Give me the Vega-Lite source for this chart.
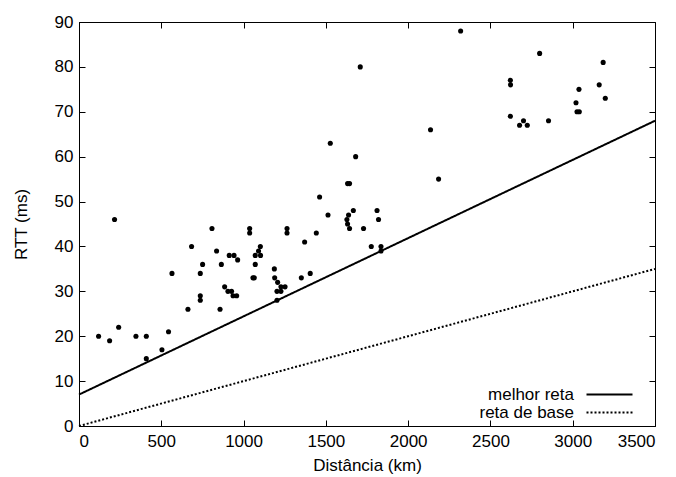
{
  "$schema": "https://vega.github.io/schema/vega-lite/v6.json",
  "width": 576,
  "height": 404,
  "autosize": {"type": "none"},
  "padding": {"left": 79, "top": 22, "right": 21, "bottom": 51},
  "background": "white",
  "config": {
    "font": "Liberation Sans",
    "view": {"stroke": "black", "strokeWidth": 1},
    "axis": {
      "grid": false,
      "domainColor": "black",
      "tickColor": "black",
      "labelColor": "black",
      "titleColor": "black",
      "labelFontSize": 17,
      "titleFontSize": 17,
      "titleFontWeight": "normal",
      "tickSize": -6,
      "format": "d"
    }
  },
  "datasets": {
    "lines": [
      {"serie": "melhor reta", "x": 0, "y": 7},
      {"serie": "melhor reta", "x": 3500, "y": 68},
      {"serie": "reta de base", "x": 0, "y": 0},
      {"serie": "reta de base", "x": 3500, "y": 35}
    ],
    "pts": [
      {"x": 216, "y": 46}, {"x": 119, "y": 20}, {"x": 186, "y": 19}, {"x": 241, "y": 22},
      {"x": 346, "y": 20}, {"x": 409, "y": 20}, {"x": 409, "y": 15}, {"x": 504, "y": 17},
      {"x": 544, "y": 21}, {"x": 565, "y": 34}, {"x": 662, "y": 26}, {"x": 684, "y": 40},
      {"x": 737, "y": 34}, {"x": 751, "y": 36}, {"x": 737, "y": 29}, {"x": 737, "y": 28},
      {"x": 808, "y": 44}, {"x": 836, "y": 39}, {"x": 857, "y": 26}, {"x": 865, "y": 36},
      {"x": 885, "y": 31}, {"x": 905, "y": 30}, {"x": 913, "y": 38}, {"x": 927, "y": 30},
      {"x": 942, "y": 38}, {"x": 936, "y": 29}, {"x": 958, "y": 29}, {"x": 964, "y": 37},
      {"x": 1037, "y": 44}, {"x": 1037, "y": 43}, {"x": 1057, "y": 33}, {"x": 1065, "y": 33},
      {"x": 1071, "y": 38}, {"x": 1091, "y": 39}, {"x": 1102, "y": 40}, {"x": 1103, "y": 38},
      {"x": 1071, "y": 36}, {"x": 1187, "y": 35}, {"x": 1189, "y": 33}, {"x": 1207, "y": 32},
      {"x": 1227, "y": 31}, {"x": 1203, "y": 30}, {"x": 1252, "y": 31}, {"x": 1227, "y": 30},
      {"x": 1203, "y": 28}, {"x": 1264, "y": 44}, {"x": 1264, "y": 43}, {"x": 1351, "y": 33},
      {"x": 1405, "y": 34}, {"x": 1371, "y": 41}, {"x": 1442, "y": 43}, {"x": 1513, "y": 47},
      {"x": 1628, "y": 46}, {"x": 1638, "y": 47}, {"x": 1667, "y": 48}, {"x": 1632, "y": 45},
      {"x": 1644, "y": 44}, {"x": 1729, "y": 44}, {"x": 1811, "y": 48}, {"x": 1820, "y": 46},
      {"x": 1776, "y": 40}, {"x": 1835, "y": 40}, {"x": 1835, "y": 39}, {"x": 1709, "y": 80},
      {"x": 1527, "y": 63}, {"x": 1681, "y": 60}, {"x": 1632, "y": 54}, {"x": 1644, "y": 54},
      {"x": 1462, "y": 51}, {"x": 2319, "y": 88}, {"x": 2136, "y": 66}, {"x": 2185, "y": 55},
      {"x": 2621, "y": 77}, {"x": 2622, "y": 76}, {"x": 2621, "y": 69}, {"x": 2677, "y": 67},
      {"x": 2701, "y": 68}, {"x": 2724, "y": 67}, {"x": 2799, "y": 83}, {"x": 2853, "y": 68},
      {"x": 3020, "y": 72}, {"x": 3038, "y": 75}, {"x": 3026, "y": 70}, {"x": 3040, "y": 70},
      {"x": 3161, "y": 76}, {"x": 3185, "y": 81}, {"x": 3198, "y": 73}
    ]
  },
  "layer": [
    {
      "data": {"name": "lines"},
      "mark": {"type": "line", "color": "black", "strokeWidth": 2},
      "encoding": {
        "x": {"field": "x", "type": "quantitative", "scale": {"domain": [0, 3500], "nice": false},
              "axis": {"orient": "top", "labels": false, "title": null, "domain": false, "values": [0, 500, 1000, 1500, 2000, 2500, 3000, 3500]}},
        "y": {"field": "y", "type": "quantitative", "scale": {"domain": [0, 90], "nice": false},
              "axis": {"orient": "right", "labels": false, "title": null, "domain": false, "values": [0, 10, 20, 30, 40, 50, 60, 70, 80, 90]}},
        "strokeDash": {
          "field": "serie", "type": "nominal",
          "scale": {"domain": ["melhor reta", "reta de base"], "range": [[1, 0], [2, 2]]},
          "legend": {
            "orient": "none",
            "legendX": 522,
            "legendY": 364,
            "title": null,
            "symbolType": "M-4.6,0H4.6",
            "symbolStrokeWidth": 2,
            "symbolStrokeColor": "black",
            "symbolSize": 100,
            "labelFontSize": 17,
            "labelColor": "black",
            "labelAlign": "right",
            "labelOffset": -44,
            "rowPadding": 0
          }
        }
      }
    },
    {
      "data": {"name": "pts"},
      "mark": {"type": "circle", "color": "black", "size": 26, "opacity": 1},
      "encoding": {
        "x": {"field": "x", "type": "quantitative", "title": "Distância (km)",
              "axis": {"orient": "bottom", "values": [0, 500, 1000, 1500, 2000, 2500, 3000, 3500], "labelPadding": 13, "titlePadding": 8}},
        "y": {"field": "y", "type": "quantitative", "title": "RTT (ms)",
              "axis": {"orient": "left", "values": [0, 10, 20, 30, 40, 50, 60, 70, 80, 90], "labelPadding": 12, "titlePadding": 24}}
      }
    }
  ],
  "resolve": {"axis": {"x": "independent", "y": "independent"}}
}
